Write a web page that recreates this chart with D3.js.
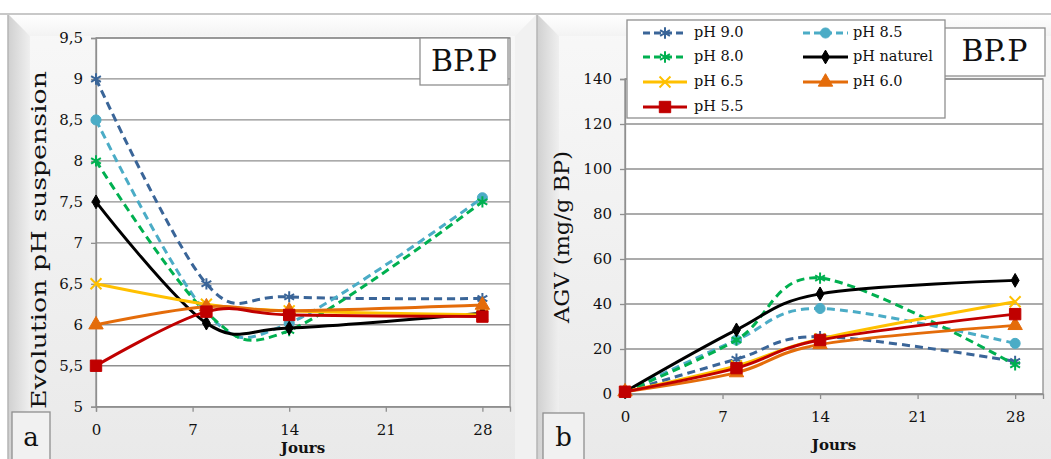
<!DOCTYPE html>
<html><head><meta charset="utf-8">
<script src="https://cdn.jsdelivr.net/npm/d3@7"></script>
<style>
html,body{margin:0;padding:0;background:#fff;}
svg{display:block;}
text{font-family:"DejaVu Serif","Liberation Serif",serif;fill:#111;}
</style></head>
<body>
<svg id="chart" width="1051" height="459"></svg>
<script>
// ---------- DATA ----------
const days = [0, 8, 14, 28];
const xTicks = [0, 7, 14, 21, 28];
const seriesNames = ["pH 9.0", "pH 8.5", "pH 8.0", "pH naturel", "pH 6.5", "pH 6.0", "pH 5.5"];
// Panel a: Evolution pH suspension
const ph90 = [9.0, 6.5, 6.34, 6.32];
const ph85 = [8.5, 6.15, 6.02, 7.55];
const ph80 = [8.0, 6.15, 5.93, 7.5];
const phNat = [7.5, 6.02, 5.96, 6.14];
const ph65 = [6.5, 6.25, 6.17, 6.12];
const ph60 = [6.0, 6.22, 6.17, 6.24];
const ph55 = [5.5, 6.16, 6.12, 6.1];
const phTicks = [5, 5.5, 6, 6.5, 7, 7.5, 8, 8.5, 9, 9.5];
const phTickLabels = ["5", "5,5", "6", "6,5", "7", "7,5", "8", "8,5", "9", "9,5"];
// Panel b: AGV (mg/g BP)
const agv90 = [1, 15.5, 25.5, 14.5];
const agv85 = [1, 24, 38, 22.5];
const agv80 = [1, 24, 51.5, 13];
const agvNat = [1, 28.5, 44.5, 50.5];
const agv65 = [1, 12.5, 24.5, 41];
const agv60 = [1, 9.5, 22, 30.5];
const agv55 = [1, 11.5, 24, 35.5];
const agvTicks = [0, 20, 40, 60, 80, 100, 120, 140];

// ---------- STYLES ----------
const styles = [
  {color:"#3a6598", dash:"8,5", marker:"asterisk"},
  {color:"#4bacc6", dash:"8,5", marker:"circle"},
  {color:"#00b050", dash:"8,5", marker:"asterisk"},
  {color:"#000000", dash:null, marker:"diamond"},
  {color:"#ffc000", dash:null, marker:"times"},
  {color:"#e46c0a", dash:null, marker:"triangle"},
  {color:"#c00000", dash:null, marker:"square"}
];

const svg = d3.select("#chart");
const defs = svg.append("defs");

const gv = defs.append("linearGradient").attr("id","panelFill").attr("x1",0).attr("x2",0).attr("y1",0).attr("y2",1);
gv.append("stop").attr("offset","0%").attr("stop-color","#f8f8f8");
gv.append("stop").attr("offset","100%").attr("stop-color","#e9e9e9");
const gl = defs.append("linearGradient").attr("id","leftBand").attr("x1",0).attr("x2",1).attr("y1",0).attr("y2",0);
gl.append("stop").attr("offset","0%").attr("stop-color","#d0d0d0");
gl.append("stop").attr("offset","100%").attr("stop-color","#efefef");
const gt = defs.append("linearGradient").attr("id","topBand").attr("x1",0).attr("x2",0).attr("y1",0).attr("y2",1);
gt.append("stop").attr("offset","0%").attr("stop-color","#ffffff");
gt.append("stop").attr("offset","100%").attr("stop-color","#f3f3f3");

function panelFrame(x0, x1) {
  const y0 = 14, y1 = 470, b = 22;
  const g = svg.append("g");
  g.append("rect").attr("x",x0).attr("y",y0).attr("width",x1-x0).attr("height",y1-y0).attr("fill","url(#panelFill)");
  g.append("path").attr("d",`M${x0},${y0}L${x1},${y0}L${x1-b},${y0+b}L${x0+b},${y0+b}Z`).attr("fill","url(#topBand)");
  g.append("path").attr("d",`M${x0},${y0}L${x0+b},${y0+b}L${x0+b},${y1}L${x0},${y1}Z`).attr("fill","url(#leftBand)");
  g.append("path").attr("d",`M${x1},${y0}L${x1-b},${y0+b}L${x1-b},${y1}L${x1},${y1}Z`).attr("fill","#f1f1f1");
  g.append("line").attr("x1",x0).attr("x2",x0).attr("y1",y0).attr("y2",y1).attr("stroke","#b4b4b4").attr("stroke-width",1.5);
}
panelFrame(8, 537);
panelFrame(537, 1075);
svg.append("line").attr("x1",0).attr("x2",1051).attr("y1",14).attr("y2",14).attr("stroke","#c8c8c8").attr("stroke-width",2);

function markerPath(type) {
  const m = {
    asterisk: d3.symbol(d3.symbolAsterisk, 90),
    circle: d3.symbol(d3.symbolCircle, 80),
    diamond: d3.symbol(d3.symbolDiamond, 55),
    times: d3.symbol(d3.symbolTimes, 80),
    triangle: d3.symbol(d3.symbolTriangle, 90),
    square: d3.symbol(d3.symbolSquare, 130)
  };
  return m[type]();
}
function drawMarker(g, type, color, x, y) {
  const stroked = (type === "asterisk" || type === "times");
  g.append("path").attr("d", markerPath(type)).attr("transform",`translate(${x},${y})`)
    .attr("fill", stroked ? "none" : color).attr("stroke", color).attr("stroke-width", stroked ? 2 : 1);
}

function drawPanel(opt) {
  const {left, right, top, bottom, yDomain, yTicks, yLabels, data, yTitle, yTitleX, yTitleY, yTitleLen,
         bpBox, letterBox, letter, xLabelY, joursY} = opt;
  const x = d3.scaleLinear().domain([0, 30]).range([left, right]);
  const y = d3.scaleLinear().domain(yDomain).range([bottom, top]);
  const g = svg.append("g");
  g.append("rect").attr("x",left).attr("y",top).attr("width",right-left).attr("height",bottom-top).attr("fill","#fff");
  // gridlines
  g.append("g").selectAll("line").data(yTicks).join("line")
    .attr("x1",left).attr("x2",right).attr("y1",d=>y(d)).attr("y2",d=>y(d))
    .attr("stroke","#8f8f8f").attr("stroke-width",1.3);
  g.append("rect").attr("x",left).attr("y",top).attr("width",right-left).attr("height",bottom-top)
    .attr("fill","none").attr("stroke","#8f8f8f").attr("stroke-width",1.3);
  // y axis
  const ya = d3.axisLeft(y).tickValues(yTicks).tickFormat((d,i)=>yLabels[i]).tickSize(5).tickPadding(8);
  const yg = g.append("g").attr("transform",`translate(${left},0)`).call(ya);
  yg.select(".domain").attr("stroke","#8f8f8f").attr("stroke-width",1.3);
  yg.selectAll(".tick line").attr("stroke","#8f8f8f").attr("stroke-width",1.3);
  yg.selectAll(".tick text").attr("font-size",15).attr("font-family","DejaVu Serif").attr("fill","#222");
  // x axis
  const xa = d3.axisBottom(x).tickValues(xTicks).tickSize(5).tickPadding(9);
  const xg = g.append("g").attr("transform",`translate(0,${bottom})`).call(xa);
  xg.select(".domain").attr("stroke","#8f8f8f").attr("stroke-width",1.3);
  xg.selectAll(".tick line").attr("stroke","#8f8f8f").attr("stroke-width",1.3);
  xg.selectAll(".tick text").attr("font-size",15).attr("font-family","DejaVu Serif").attr("fill","#222")
    .attr("dy",null).attr("y", xLabelY - bottom).attr("dominant-baseline","middle");
  // lines (Excel-style smoothing: uniform Catmull-Rom)
  const line = d3.line().x((d,i)=>x(days[i])).y(d=>y(d)).curve(d3.curveCardinal.tension(0));
  data.forEach((vals, si) => {
    const st = styles[si];
    g.append("path").attr("d", line(vals)).attr("fill","none").attr("stroke", st.color)
      .attr("stroke-width", 3).attr("stroke-dasharray", st.dash).attr("stroke-linejoin","round");
    vals.forEach((v,i) => drawMarker(g, st.marker, st.color, x(days[i]), y(v)));
  });
  // BP.P box
  g.append("rect").attr("x",bpBox[0]).attr("y",bpBox[1]).attr("width",bpBox[2]).attr("height",bpBox[3])
    .attr("fill","#fff").attr("stroke","#8f8f8f").attr("stroke-width",1.3);
  g.append("text").attr("x",bpBox[0]+bpBox[2]/2).attr("y",bpBox[1]+bpBox[3]/2+1).attr("text-anchor","middle")
    .attr("dominant-baseline","middle").attr("font-size",30).text("BP.P");
  // letter box
  g.append("rect").attr("x",letterBox[0]).attr("y",letterBox[1]).attr("width",letterBox[2]).attr("height",letterBox[3])
    .attr("fill","#f1f1f1").attr("stroke","#8f8f8f").attr("stroke-width",1.3);
  g.append("text").attr("x",letterBox[0]+letterBox[2]/2).attr("y",446).attr("text-anchor","middle")
    .attr("font-size",26).text(letter);
  // titles
  g.append("text").attr("transform",`translate(${yTitleX},${yTitleY}) rotate(-90)`).attr("text-anchor","middle")
    .attr("dominant-baseline","middle").attr("font-size",20).attr("textLength", yTitleLen).attr("lengthAdjust","spacingAndGlyphs").text(yTitle);
  g.append("text").attr("x",(left+right)/2).attr("y",joursY).attr("text-anchor","middle").attr("dominant-baseline","middle")
    .attr("font-size",15).attr("font-weight","bold").text("Jours");
  return {x, y};
}

drawPanel({left:96, right:510, top:38, bottom:406.7, yDomain:[5,9.5], yTicks:phTicks, yLabels:phTickLabels,
  data:[ph90, ph85, ph80, phNat, ph65, ph60, ph55], yTitle:"Evolution pH suspension", yTitleX:40, yTitleY:240, yTitleLen:338,
  bpBox:[420,38,88,47], letterBox:[12,412,38,60], letter:"a", xLabelY:431, joursY:449});

drawPanel({left:625, right:1043, top:79, bottom:394, yDomain:[0,140], yTicks:agvTicks, yLabels:agvTicks.map(String),
  data:[agv90, agv85, agv80, agvNat, agv65, agv60, agv55], yTitle:"AGV (mg/g BP)", yTitleX:563, yTitleY:237, yTitleLen:172,
  bpBox:[944,28,101,48], letterBox:[543,413,41,60], letter:"b", xLabelY:418, joursY:446});

// legend
const lg = svg.append("g");
lg.append("rect").attr("x",627).attr("y",20).attr("width",318).attr("height",98).attr("fill","#fff")
  .attr("stroke","#8f8f8f").attr("stroke-width",1.3);
const legX = [[643, 687, 694], [803, 848, 853]];
const legY = [33, 57, 82, 107];
seriesNames.forEach((name, i) => {
  const col = i % 2, row = Math.floor(i / 2);
  const [x1, x2, tx] = legX[col];
  const yy = legY[row];
  const st = styles[i];
  lg.append("line").attr("x1",x1).attr("x2",x2).attr("y1",yy).attr("y2",yy).attr("stroke",st.color)
    .attr("stroke-width",3).attr("stroke-dasharray", st.dash ? "7,4" : null);
  drawMarker(lg, st.marker, st.color, (x1+x2)/2, yy);
  lg.append("text").attr("x",tx).attr("y",yy).attr("dominant-baseline","middle").attr("font-size",14.5).text(name);
});
</script>
</body></html>
